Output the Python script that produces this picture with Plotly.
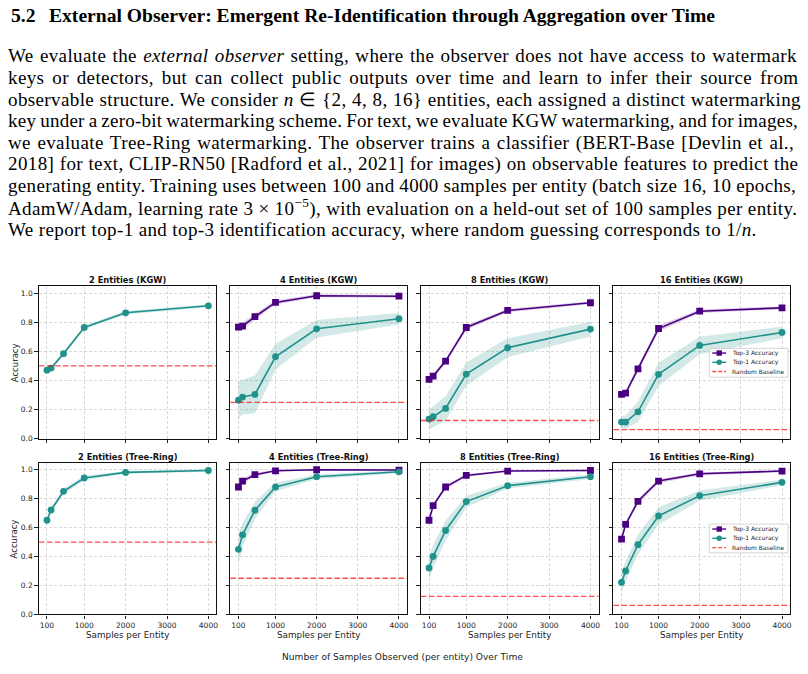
import re
import plotly.graph_objects as go

W, H = 808, 674

# ---------------- data ----------------
samples = [100, 200, 500, 1000, 2000, 4000]
entities = [2, 4, 8, 16]
x_ticks = [100, 1000, 2000, 3000, 4000]
y_ticks = [0.0, 0.2, 0.4, 0.6, 0.8, 1.0]
panel_titles_kgw = ["2 Entities (KGW)", "4 Entities (KGW)", "8 Entities (KGW)", "16 Entities (KGW)"]
panel_titles_tr = ["2 Entities (Tree-Ring)", "4 Entities (Tree-Ring)", "8 Entities (Tree-Ring)", "16 Entities (Tree-Ring)"]

kgw2_top1 = [0.471, 0.485, 0.584, 0.764, 0.865, 0.913]
kgw2_top1_err = [0.010, 0.012, 0.012, 0.012, 0.012, 0.010]
kgw4_top1 = [0.265, 0.286, 0.304, 0.563, 0.755, 0.824]
kgw4_top1_err = [0.130, 0.120, 0.130, 0.090, 0.060, 0.040]
kgw4_top3 = [0.767, 0.773, 0.838, 0.936, 0.982, 0.979]
kgw4_top3_err = [0.025, 0.025, 0.020, 0.015, 0.010, 0.010]
kgw8_top1 = [0.135, 0.151, 0.208, 0.444, 0.625, 0.753]
kgw8_top1_err = [0.070, 0.070, 0.085, 0.080, 0.065, 0.050]
kgw8_top3 = [0.407, 0.430, 0.533, 0.764, 0.881, 0.934]
kgw8_top3_err = [0.015, 0.015, 0.015, 0.015, 0.012, 0.010]
kgw16_top1 = [0.114, 0.114, 0.185, 0.442, 0.641, 0.730]
kgw16_top1_err = [0.040, 0.045, 0.070, 0.080, 0.060, 0.040]
kgw16_top3 = [0.304, 0.313, 0.480, 0.757, 0.876, 0.899]
kgw16_top3_err = [0.015, 0.015, 0.020, 0.020, 0.012, 0.010]

tr2_top1 = [0.651, 0.722, 0.851, 0.943, 0.982, 0.995]
tr2_top1_err = [0.015, 0.015, 0.020, 0.015, 0.010, 0.008]
tr4_top1 = [0.450, 0.550, 0.720, 0.881, 0.952, 0.986]
tr4_top1_err = [0.100, 0.080, 0.060, 0.030, 0.015, 0.010]
tr4_top3 = [0.881, 0.922, 0.966, 0.993, 1.000, 0.998]
tr4_top3_err = [0.020, 0.020, 0.012, 0.005, 0.003, 0.003]
tr8_top1 = [0.321, 0.401, 0.580, 0.780, 0.890, 0.952]
tr8_top1_err = [0.080, 0.080, 0.070, 0.040, 0.020, 0.015]
tr8_top3 = [0.651, 0.752, 0.881, 0.961, 0.991, 0.995]
tr8_top3_err = [0.015, 0.015, 0.015, 0.010, 0.005, 0.005]
tr16_top1 = [0.222, 0.300, 0.482, 0.681, 0.821, 0.913]
tr16_top1_err = [0.070, 0.070, 0.070, 0.060, 0.035, 0.020]
tr16_top3 = [0.521, 0.622, 0.782, 0.922, 0.972, 0.991]
tr16_top3_err = [0.015, 0.015, 0.015, 0.015, 0.010, 0.008]

top1_series = [kgw2_top1, kgw4_top1, kgw8_top1, kgw16_top1, tr2_top1, tr4_top1, tr8_top1, tr16_top1]
top1_errs = [kgw2_top1_err, kgw4_top1_err, kgw8_top1_err, kgw16_top1_err,
             tr2_top1_err, tr4_top1_err, tr8_top1_err, tr16_top1_err]
top3_series = [None, kgw4_top3, kgw8_top3, kgw16_top3, None, tr4_top3, tr8_top3, tr16_top3]
top3_errs = [None, kgw4_top3_err, kgw8_top3_err, kgw16_top3_err, None, tr4_top3_err, tr8_top3_err, tr16_top3_err]

heading_num = "5.2"
heading_text = "External Observer: Emergent Re-Identification through Aggregation over Time"
body_lines = [
    "We evaluate the <i>external observer</i> setting, where the observer does not have access to watermark",
    "keys or detectors, but can collect public outputs over time and learn to infer their source from",
    "observable structure. We consider <i>n</i> \u2208 {2, 4, 8, 16} entities, each assigned a distinct watermarking",
    "key under a zero-bit watermarking scheme. For text, we evaluate KGW watermarking, and for images,",
    "we evaluate Tree-Ring watermarking. The observer trains a classifier (BERT-Base [Devlin et al.,",
    "2018] for text, CLIP-RN50 [Radford et al., 2021] for images) on observable features to predict the",
    "generating entity. Training uses between 100 and 4000 samples per entity (batch size 16, 10 epochs,",
    "AdamW/Adam, learning rate 3 \u00d7 10<sup>\u22125</sup>), with evaluation on a held-out set of 100 samples per entity.",
    "We report top-1 and top-3 identification accuracy, where random guessing corresponds to 1/<i>n</i>.",
]

# ---------------- style ----------------
TEAL = "#21918c"
PURPLE = "#4b0082"
TEAL_FILL = "rgba(33,145,140,0.2)"
PURPLE_FILL = "rgba(75,0,130,0.18)"
RED = "rgba(255,0,0,0.7)"
SANS = "DejaVu Sans"
SERIF = "Liberation Serif"

BODY_SIZE = 19.0
LETTER_SP = 0.38
TEXT_LEFT = 7.0
TEXT_RIGHT = 797.5

# approximate Times / Liberation Serif advance widths (1/1000 em) for justification
_ROMAN = {' ': 250, '!': 333, '(': 333, ')': 333, ',': 250, '-': 333, '.': 250, '/': 278, ':': 278,
          '[': 333, ']': 333, '{': 480, '}': 480, '\u00d7': 564, '\u2212': 564, '\u2208': 667}
_ROMAN.update({d: 500 for d in "0123456789"})
_ROMAN.update(dict(zip("ABCDEFGHIJKLMNOPQRSTUVWXYZ",
                       [722, 667, 667, 722, 611, 556, 722, 722, 333, 389, 722, 611, 889, 722, 722, 556,
                        722, 667, 556, 611, 722, 722, 944, 722, 722, 611])))
_ROMAN.update(dict(zip("abcdefghijklmnopqrstuvwxyz",
                       [444, 500, 444, 500, 444, 333, 500, 500, 278, 278, 500, 278, 778, 500, 500, 500,
                        500, 333, 389, 278, 500, 500, 722, 500, 500, 444])))
_ITALIC = dict(_ROMAN)
_ITALIC.update(dict(zip("abcdefghijklmnopqrstuvwxyz",
                        [500, 500, 444, 500, 444, 278, 500, 500, 278, 278, 444, 278, 722, 500, 500, 500,
                         500, 389, 389, 278, 500, 444, 667, 444, 444, 389])))


def line_metrics(html):
    italic, sup = False, False
    width, nchars, nspaces = 0.0, 0, 0
    for tok in re.split(r"(<[^>]+>)", html):
        if tok.startswith("<"):
            t = tok.lower()
            if t == "<i>":
                italic = True
            elif t == "</i>":
                italic = False
            elif t == "<sup>":
                sup = True
            elif t == "</sup>":
                sup = False
            continue
        for ch in tok:
            w = (_ITALIC if italic else _ROMAN).get(ch, 500)
            width += w * BODY_SIZE / 1000 * (0.7 if sup else 1.0)
            nchars += 1
            if ch == " ":
                nspaces += 1
    return width, nchars, nspaces


col_px = [(39, 217), (231, 408), (422, 600), (615, 792)]
row_px = [(288, 442), (466, 619)]


def X(px):
    return px / W


def Y(py):
    return 1 - py / H


fig = go.Figure()
layout = dict(width=W, height=H, margin=dict(l=0, r=0, t=0, b=0),
              paper_bgcolor="white", plot_bgcolor="white", showlegend=False,
              font=dict(family=SANS, color="#222"))
annotations = []
shapes = []

for i in range(8):
    r, c = divmod(i, 4)
    n = entities[c]
    sfx = "" if i == 0 else str(i + 1)
    xa, ya = "x" + sfx, "y" + sfx
    x0, x1 = col_px[c]
    y0, y1 = row_px[r]
    layout["xaxis" + sfx] = dict(
        domain=[X(x0), X(x1)], anchor=ya, range=[-95, 4195],
        tickvals=x_ticks, showticklabels=(r == 1), ticks="outside", ticklen=3.5,
        tickwidth=0.8, tickcolor="#222", tickfont=dict(size=7.5, color="#222"),
        showline=True, linewidth=1.3, linecolor="#111", mirror=True,
        showgrid=True, gridcolor="rgba(170,170,170,0.45)", gridwidth=0.7, griddash="3px,2px",
        zeroline=False)
    layout["yaxis" + sfx] = dict(
        domain=[Y(y1), Y(y0)], anchor=xa, range=[0, 1.05],
        tickvals=y_ticks, tickformat=".1f", showticklabels=(c == 0), ticks="outside", ticklen=3.5,
        tickwidth=0.8, tickcolor="#222", tickfont=dict(size=7.5, color="#222"),
        showline=True, linewidth=1.3, linecolor="#111", mirror=True,
        showgrid=True, gridcolor="rgba(170,170,170,0.45)", gridwidth=0.7, griddash="3px,2px",
        zeroline=False)

    series = []
    if top3_series[i] is not None:
        series.append((top3_series[i], top3_errs[i], PURPLE, PURPLE_FILL, "square", "Top-3 Accuracy"))
    series.append((top1_series[i], top1_errs[i], TEAL, TEAL_FILL, "circle", "Top-1 Accuracy"))
    for vals, errs, col, fillc, sym, name in series:
        lo = [v - e for v, e in zip(vals, errs)]
        hi = [v + e for v, e in zip(vals, errs)]
        fig.add_trace(go.Scatter(x=samples, y=lo, xaxis=xa, yaxis=ya, mode="lines",
                                 line=dict(width=0, color=fillc), hoverinfo="skip", showlegend=False))
        fig.add_trace(go.Scatter(x=samples, y=hi, xaxis=xa, yaxis=ya, mode="lines", fill="tonexty",
                                 fillcolor=fillc, line=dict(width=0, color=fillc),
                                 hoverinfo="skip", showlegend=False))
    for vals, errs, col, fillc, sym, name in series:
        fig.add_trace(go.Scatter(x=samples, y=vals, xaxis=xa, yaxis=ya, mode="lines+markers", name=name,
                                 line=dict(color=col, width=1.6),
                                 marker=dict(symbol=sym, size=6.8, color=col, line=dict(width=0)),
                                 showlegend=False))

    # random baseline (1/n)
    shapes.append(dict(type="line", xref=xa + " domain", yref=ya, x0=0, x1=1, y0=1 / n, y1=1 / n,
                       line=dict(color=RED, width=1.3, dash="5.5px,2.5px"), layer="above"))

    title = panel_titles_kgw[c] if r == 0 else panel_titles_tr[c]
    annotations.append(dict(text="<b>" + title + "</b>", x=X((x0 + x1) / 2), y=Y(y0 - 6),
                            xref="paper", yref="paper", showarrow=False, xanchor="center", yanchor="middle",
                            font=dict(family=SANS, size=8.3, color="#111")))
    if c == 0:
        annotations.append(dict(text="Accuracy", x=X(15), y=Y((y0 + y1) / 2), xref="paper", yref="paper",
                                showarrow=False, textangle=-90, xanchor="center", yanchor="middle",
                                font=dict(family=SANS, size=8.5, color="#222")))
    if r == 1:
        annotations.append(dict(text="Samples per Entity", x=X((x0 + x1) / 2), y=Y(640),
                                xref="paper", yref="paper", showarrow=False, xanchor="center", yanchor="middle",
                                font=dict(family=SANS, size=8.8, color="#222")))

# legends drawn in the last column panels
legend_boxes = [((711, 790), (351, 380), (355.7, 365.0, 374.3)),
                ((711, 790), (528, 557), (533.0, 542.3, 551.7))]
legend_items = [("Top-3 Accuracy", PURPLE, "square", "solid"),
                ("Top-1 Accuracy", TEAL, "circle", "solid"),
                ("Random Baseline", RED, None, "dash")]
for (bx0, bx1), (by0, by1), rows in legend_boxes:
    shapes.append(dict(type="rect", xref="paper", yref="paper", x0=X(bx0), x1=X(bx1), y0=Y(by1), y1=Y(by0),
                       line=dict(color="#cccccc", width=0.8), fillcolor="rgba(255,255,255,0.8)", layer="above"))
    for (label, col, sym, style), ry in zip(legend_items, rows):
        shapes.append(dict(type="line", xref="paper", yref="paper", x0=X(714), x1=X(728), y0=Y(ry), y1=Y(ry),
                           line=dict(color=col, width=1.4, dash=("4px,2px" if style == "dash" else "solid")),
                           layer="above"))
        if sym == "square":
            shapes.append(dict(type="rect", xref="paper", yref="paper", x0=X(718.3), x1=X(723.7),
                               y0=Y(ry + 2.7), y1=Y(ry - 2.7), line=dict(width=0), fillcolor=col, layer="above"))
        elif sym == "circle":
            shapes.append(dict(type="circle", xref="paper", yref="paper", x0=X(718.3), x1=X(723.7),
                               y0=Y(ry + 2.7), y1=Y(ry - 2.7), line=dict(width=0), fillcolor=col, layer="above"))
        annotations.append(dict(text=label, x=X(732), y=Y(ry), xref="paper", yref="paper", showarrow=False,
                                xanchor="left", yanchor="middle", font=dict(family=SANS, size=6.0, color="#222")))

annotations.append(dict(text="Number of Samples Observed (per entity) Over Time", x=X(403), y=Y(662),
                        xref="paper", yref="paper", showarrow=False, xanchor="center", yanchor="middle",
                        font=dict(family=SANS, size=9.1, color="#222")))

# page text
annotations.append(dict(text="<b>" + heading_num + "</b>", x=X(9), y=Y(16), xref="paper", yref="paper",
                        showarrow=False, xanchor="left", yanchor="middle",
                        font=dict(family=SERIF, size=19.6, color="black")))
annotations.append(dict(text="<b>" + heading_text + "</b>", x=X(47), y=Y(16), xref="paper", yref="paper",
                        showarrow=False, xanchor="left", yanchor="middle",
                        font=dict(family=SERIF, size=19.6, color="black")))
target = TEXT_RIGHT - TEXT_LEFT
for k, line in enumerate(body_lines):
    glyph_w, nch, nsp = line_metrics(line)
    ls, ws = LETTER_SP, 0.0
    if k < len(body_lines) - 1:
        deficit = target - (glyph_w + LETTER_SP * nch)
        if deficit < 0:
            # shrink: share between letter and word spacing
            ls = LETTER_SP + 0.5 * deficit / nch
            ws = 0.5 * deficit / max(nsp, 1)
        else:
            ws = deficit / max(nsp, 1)
    styled = '<span style="letter-spacing:%.3fpx;word-spacing:%.2fpx">%s</span>' % (ls, ws, line)
    annotations.append(dict(text=styled, x=X(TEXT_LEFT - 1), y=Y(56 + 21.9 * k), xref="paper", yref="paper",
                            showarrow=False, xanchor="left", yanchor="middle", align="left",
                            font=dict(family=SERIF, size=BODY_SIZE, color="black")))

layout["annotations"] = annotations
layout["shapes"] = shapes
fig.update_layout(**layout)
fig.write_html("out.html")
